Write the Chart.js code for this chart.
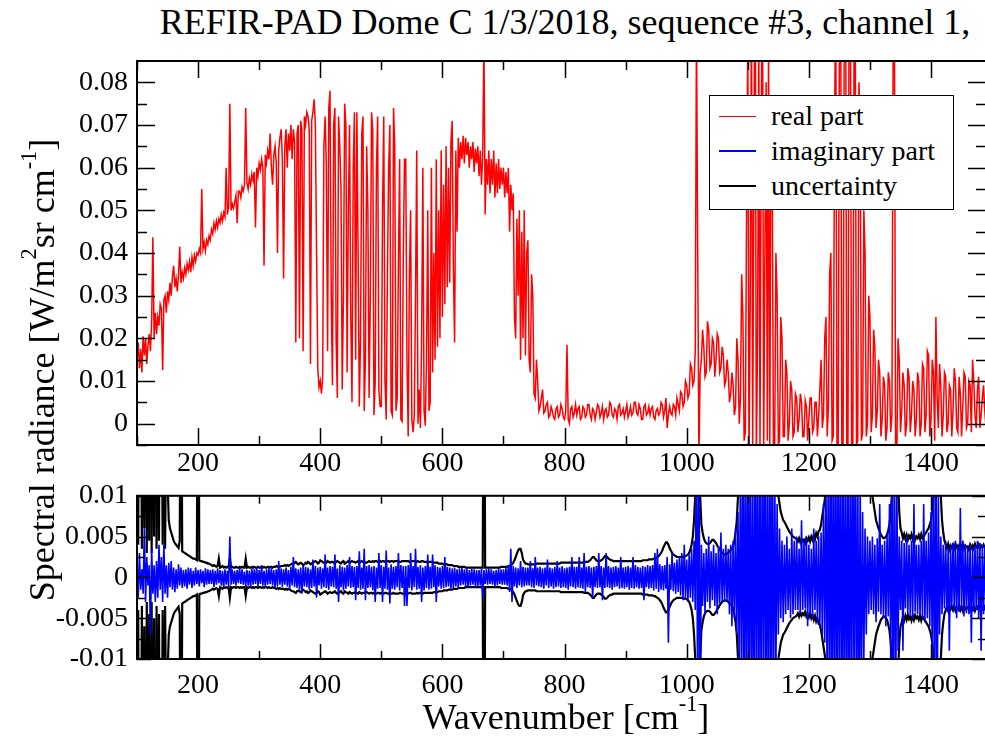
<!DOCTYPE html>
<html>
<head>
<meta charset="utf-8">
<script src="https://cdn.jsdelivr.net/npm/chart.js@4.4.0/dist/chart.umd.min.js"></script>
<style>
  body { margin:0; overflow:hidden; background:#fff; }
  #wrap { position:relative; width:985px; height:742px; overflow:hidden; font-family:'Liberation Serif','Times New Roman',serif; color:#000; }
  canvas { position:absolute; left:0; }
  .title { position:absolute; left:0; width:1130px; top:0; text-align:center; font-size:36px; line-height:44px; white-space:nowrap; }
  .ytitle { position:absolute; left:-258px; top:350px; width:600px; height:40px; line-height:40px; text-align:center; font-size:36px; transform:rotate(-90deg); white-space:nowrap; }
  .xtitle { position:absolute; left:366px; width:400px; top:697px; line-height:40px; text-align:center; font-size:36px; white-space:nowrap; }
  sup { font-size:0.62em; vertical-align:0.8em; line-height:0; }
  #legend { position:absolute; left:709px; top:95px; width:245px; height:115px; box-sizing:border-box; border:1.5px solid #000; background:#fff; }
  #legend .row { position:absolute; left:0; height:34px; line-height:34px; font-size:28px; white-space:nowrap; }
  #legend .swatch { position:absolute; left:9px; width:37px; top:17px; }
  #legend .lbl { position:absolute; left:61px; top:0; }
</style>
</head>
<body>
<div id="wrap">
  <div class="title">REFIR-PAD Dome C 1/3/2018, sequence #3, channel 1,</div>
  <canvas id="topChart" width="986" height="490" style="top:0"></canvas>
  <canvas id="botChart" width="986" height="272" style="top:470px"></canvas>
  <div class="ytitle">Spectral radiance [W/m<sup>2</sup>sr cm<sup>-1</sup>]</div>
  <div class="xtitle">Wavenumber [cm<sup>-1</sup>]</div>
  <div id="legend">
    <div class="row" style="top:3px"><div class="swatch" style="border-top:1px solid #ff0000"></div><span class="lbl">real part</span></div>
    <div class="row" style="top:38px"><div class="swatch" style="border-top:2px solid #0000ff;margin-top:-1px"></div><span class="lbl">imaginary part</span></div>
    <div class="row" style="top:73px"><div class="swatch" style="border-top:2px solid #000;margin-top:-1px"></div><span class="lbl">uncertainty</span></div>
  </div>
</div>
<script>
// sampling grid of the spectrum [cm-1]
var wnStart = 100, wnStep = 2;

// real part of the spectral radiance, units of 1e-4 W/(m2 sr cm-1), one row = 40 cm-1
var realE4 = [
  150,190,130,175,120,205,160,200,140,185,210,170,240,437,200,260,210,250,230,280,
  270,125,290,300,260,310,290,330,300,345,370,320,340,310,350,415,330,355,340,365,
  350,375,360,380,355,390,370,395,380,400,395,410,400,550,410,425,405,430,420,440,
  430,455,445,470,455,475,460,480,470,490,475,495,485,600,490,510,750,500,515,505,
  520,535,470,545,545,530,555,545,560,740,565,550,575,560,585,570,590,460,600,580,
  610,595,620,600,370,630,610,640,620,680,600,560,630,650,610,400,640,670,690,620,
  340,650,690,600,680,640,700,620,690,660,190,680,700,200,710,690,170,720,700,730,
  720,690,140,710,730,760,700,400,130,85,100,70,110,650,720,600,170,740,780,300,
  90,700,740,200,60,720,650,550,80,300,750,700,120,500,700,250,50,600,730,150,
  730,400,40,200,680,720,30,150,650,500,60,300,730,690,20,100,600,720,80,40,
  40,500,720,100,10,350,600,700,30,20,740,650,30,60,380,620,10,5,400,620,
  620,150,-30,350,500,10,-20,20,300,640,0,80,-10,200,600,30,-5,150,500,30,
  50,600,120,400,150,620,180,500,200,640,250,560,280,650,320,600,330,660,710,360,
  190,640,450,670,600,660,620,675,610,670,630,660,600,650,620,660,590,645,610,650,
  580,640,560,630,900,490,620,560,640,540,620,560,640,530,610,540,620,550,600,560,
  600,530,590,540,600,450,560,500,540,250,200,480,300,500,150,450,200,500,160,400,
  430,150,120,350,300,70,60,150,100,30,40,60,80,25,30,45,50,15,20,40,
  30,15,10,35,40,15,20,45,35,15,10,30,185,10,0,35,40,15,25,45,
  20,35,40,10,15,40,35,15,20,45,45,20,10,35,30,10,25,45,40,15,
  25,40,10,30,35,15,20,50,45,20,15,35,30,10,40,45,20,25,35,15,
  30,45,15,25,40,20,25,50,50,25,20,45,35,10,10,40,45,20,25,40,
  20,35,40,15,10,30,35,20,25,50,45,15,30,60,-10,20,40,25,20,45,
  40,20,60,45,30,75,70,40,50,100,90,60,70,140,130,90,100,170,950,400,
  -80,120,150,220,180,110,120,240,220,130,140,200,190,110,150,210,200,120,130,180,
  160,90,100,150,120,50,70,120,90,20,40,200,150,0,60,350,250,-40,-20,500,
  900,-80,300,1000,-50,600,1200,-100,200,900,-60,700,1100,-80,400,800,-40,900,-60,700,
  600,-60,-60,400,300,-50,-40,250,200,-30,-30,150,120,-40,0,100,80,-30,-20,70,
  60,-20,10,70,50,-30,-30,55,40,-40,10,60,60,-20,-10,50,50,-30,20,80,
  150,-10,20,200,250,-30,40,350,400,-40,-30,700,1000,-50,-60,900,1100,-80,-80,1000,
  1200,-60,-50,1100,1000,-80,-80,900,900,-50,-40,800,700,-40,-20,500,400,-30,0,300,
  250,-20,20,220,180,-10,30,150,120,-30,10,110,90,-40,-10,120,100,-20,20,900,
  1000,-80,-80,200,150,-20,30,120,90,-30,0,130,110,-20,20,100,80,-30,10,120,
  100,-30,0,140,130,-20,20,170,160,-30,10,150,120,-40,250,60,-10,140,90,-30,
  20,120,110,-20,0,90,80,-30,30,130,100,-10,-20,110,70,-30,40,120,110,-10,
  0,100,90,-20,150,100,20,-10,80,110,-10,20,60,90,30,-10
];

// imaginary part, 1e-4 units
var imagE4 = [
  20,-25,30,-15,10,-20,60,-30,25,-10,15,-70,35,-20,15,-30,20,-25,40,-15,
  25,-30,40,-20,15,-25,18,-12,20,-15,12,-18,10,-14,16,-10,12,-13,9,-11,
  10,-14,12,-9,11,-13,8,-10,12,-8,9,-11,10,-7,8,-12,11,-9,10,-8,
  9,-8,10,-12,8,-9,11,-7,9,-10,8,-12,10,-9,8,-11,50,-9,10,-8,
  8,-10,9,-7,12,-8,10,-9,7,-11,9,-10,8,-12,11,-9,10,-8,12,-11,
  9,-8,15,-10,8,-12,10,-9,11,-8,12,-10,9,-13,10,-11,20,-9,11,-12,
  10,-9,12,-11,9,-14,13,-10,25,-12,11,-13,10,-15,12,-20,14,-11,13,-12,
  12,-15,10,-13,22,-11,14,-25,12,-10,13,-14,11,-12,28,-13,12,-15,14,-11,
  13,-12,28,-14,11,-30,15,-12,13,-16,12,-14,15,-11,25,-13,14,-12,13,-28,
  14,-13,32,-15,12,-14,35,-28,14,-13,15,-12,13,-16,14,-30,12,-14,30,-13,
  15,-30,13,-14,33,-15,12,-32,16,-14,13,-15,14,-12,30,-16,15,-13,14,-35,
  14,-35,15,-13,30,-16,14,-12,35,-15,13,-14,15,-30,12,-16,14,-13,28,-15,
  13,-14,28,-12,15,-30,13,-11,12,-14,14,-13,25,-12,13,-11,12,-14,11,-13,
  12,-11,10,-13,11,-10,12,-9,10,-11,11,-12,9,-10,11,-9,10,-12,9,-11,
  9,-10,11,-25,9,-8,10,-9,11,-8,10,-9,8,-11,9,-10,11,-8,10,-9,
  10,-9,12,-10,15,-18,35,-30,14,-11,12,-13,11,-10,20,-12,13,-11,12,-10,
  12,-10,20,-12,11,-13,25,-10,12,-11,13,-12,11,-14,12,-10,22,-13,12,-11,
  11,-14,13,-12,20,-11,12,-13,14,-12,11,-13,12,-15,13,-11,25,-12,13,-14,
  13,-12,25,-13,12,-14,30,-18,13,-12,14,-13,12,-25,13,-12,14,-13,30,-12,
  14,-28,12,-13,30,-12,14,-13,12,-15,13,-12,14,-11,12,-14,25,-13,12,-14,
  13,-12,14,-15,12,-13,25,-14,15,-12,13,-14,12,-13,14,-28,13,-12,15,-14,
  14,-13,15,-16,30,-14,35,-18,16,-15,14,-16,15,-14,25,-80,16,-15,30,-17,
  18,-20,22,-18,25,-22,30,-28,40,-25,22,-30,28,-25,35,-30,45,-40,200,-200,
  200,-200,40,-35,30,-45,35,-30,50,-38,32,-28,40,-35,30,-45,38,-32,55,-30,
  35,-30,40,-28,35,-45,40,-60,45,-50,60,-70,80,-120,150,-150,200,-200,200,-200,
  200,-180,200,-200,150,-200,200,-170,200,-200,180,-200,200,-150,200,-200,170,-200,200,-180,
  200,-200,150,-120,90,-70,60,-50,45,-55,40,-45,50,-40,35,-50,60,-45,45,-40,
  50,-40,35,-45,70,-40,45,-38,50,-60,40,-45,35,-50,60,-40,45,-55,50,-60,
  55,-70,90,-80,120,-150,200,-200,200,-200,200,-200,200,-200,200,-180,200,-200,180,-200,
  200,-200,170,-200,200,-200,200,-150,200,-200,150,-200,120,-150,80,-100,60,-70,50,-45,
  45,-40,50,-45,40,-55,48,-42,90,-45,40,-50,45,-60,55,-48,90,-100,150,-200,
  200,-200,120,-90,50,-40,45,-90,42,-38,50,-45,40,-48,45,-50,90,-42,40,-45,
  40,-48,45,-50,90,-55,45,-50,55,-60,80,-100,150,-200,200,-200,100,-70,50,-45,
  40,-38,45,-42,35,-90,40,-36,42,-40,45,-50,38,-42,85,-40,45,-48,40,-44,
  38,-45,40,-80,36,-42,39,-40,45,-50,42,-90,40,-45,38,-42
];

// uncertainty (plotted as +/-), 1e-4 units
var uncE4 = [
  400,40,500,300,35,350,60,450,30,380,45,500,30,400,50,600,35,300,45,400,
  300,40,250,35,200,120,70,60,55,50,45,42,40,38,36,45,400,32,31,30,
  29,28,27,26,25,24,23,23,22,21,400,21,20,20,19,19,18,18,17,17,
  16,15,14,15,14,13,14,23,12,13,14,12,13,12,13,12,25,12,13,12,
  12,13,12,12,13,12,13,12,12,23,12,13,12,12,13,12,13,12,12,13,
  12,12,13,12,13,12,12,13,12,13,13,12,13,13,14,13,14,13,14,14,
  14,15,14,15,14,15,16,17,17,18,19,17,16,17,18,17,15,16,18,17,
  19,18,16,17,18,19,20,19,17,18,21,20,19,18,17,18,20,19,18,19,
  19,18,17,19,20,19,18,17,19,20,17,18,19,20,18,19,20,19,19,18,
  19,20,18,19,20,19,19,18,18,19,20,19,19,20,19,20,20,19,19,20,
  19,20,20,19,19,20,20,19,20,20,19,20,20,20,20,19,19,20,20,20,
  20,20,20,19,19,20,20,20,20,19,20,19,19,20,20,19,19,19,19,19,
  19,19,19,18,18,18,18,17,17,17,17,16,16,16,16,15,15,15,15,14,
  14,14,14,13,13,13,13,13,13,12,12,12,12,12,12,12,12,12,12,12,
  12,12,12,12,400,12,12,12,12,12,12,12,12,12,12,12,12,12,13,13,
  13,13,13,13,14,14,15,16,18,21,25,29,33,35,35,30,22,19,17,17,
  16,16,16,16,16,16,16,17,17,17,17,17,17,17,17,17,17,17,17,17,
  17,17,17,17,17,17,17,18,18,18,18,18,18,18,18,18,18,18,18,18,
  18,18,18,18,18,18,19,19,19,19,20,21,23,25,25,23,21,20,20,20,
  21,22,24,26,26,25,23,22,21,21,20,20,20,20,20,20,20,20,20,20,
  20,20,20,20,20,20,20,20,20,20,20,20,20,20,21,21,21,21,21,22,
  22,22,22,23,23,24,25,26,28,30,33,37,40,43,43,40,36,33,30,28,
  27,26,25,25,25,25,25,25,26,26,27,28,30,34,40,50,70,100,200,300,
  200,100,65,55,48,44,42,41,41,42,44,46,46,44,42,39,37,34,32,30,
  29,28,28,29,30,32,33,35,38,45,55,70,100,150,200,250,300,350,400,450,
  500,550,600,650,700,750,800,800,800,800,800,750,700,650,600,550,500,450,400,350,
  300,250,200,150,120,100,90,80,75,70,68,65,62,59,56,54,52,50,49,48,
  47,44,48,43,47,44,46,42,48,45,49,44,50,46,52,47,54,50,57,58,
  65,75,85,95,110,130,160,200,250,300,350,400,450,500,550,600,650,700,750,800,
  800,800,800,800,750,700,650,600,550,500,450,400,350,300,250,220,200,180,150,130,
  120,110,100,90,80,70,65,60,56,52,50,48,48,50,52,58,65,80,100,150,
  250,300,200,120,80,60,55,48,53,47,52,46,51,48,53,47,52,46,50,48,
  52,47,53,48,50,53,55,58,60,65,70,80,100,150,250,300,250,150,100,70,
  55,45,40,36,41,34,39,36,40,35,41,37,39,34,40,36,41,35,39,37,
  38,34,40,36,39,35,41,37,36,40,35,39,37,40,36,39
];

// axis ticks
var xMajor = [200,400,600,800,1000,1200,1400];
var xMinor = [100,300,500,700,900,1100,1300];
var topYMajor = [0,0.01,0.02,0.03,0.04,0.05,0.06,0.07,0.08];
var topYLabels = ['0','0.01','0.02','0.03','0.04','0.05','0.06','0.07','0.08'];
var topYMinor = [-0.005,0.005,0.015,0.025,0.035,0.045,0.055,0.065,0.075];
var botYMajor = [-0.01,-0.005,0,0.005,0.01];
var botYLabels = ['-0.01','-0.005','0','0.005','0.01'];
var botYMinor = [-0.0075,-0.0025,0.0025,0.0075];

var fontFamily = "'Liberation Serif','Times New Roman',serif";

function toPoints(vals, sign) {
  var pts = [];
  for (var i = 0; i < vals.length; i++) {
    pts.push({ x: wnStart + i * wnStep, y: sign * vals[i] * 1e-4 });
  }
  return pts;
}

// frame + inward ticks on all four sides, like the grace plots
var frameTicks = {
  id: 'frameTicks',
  afterDatasetsDraw: function(chart, args, o) {
    var ctx = chart.ctx, a = chart.chartArea;
    var xs = chart.scales.x, ys = chart.scales.y;
    ctx.save();
    ctx.strokeStyle = '#000';
    ctx.lineWidth = 1.5;
    ctx.beginPath();
    function xt(list, len) {
      list.forEach(function(v) {
        var px = Math.round(xs.getPixelForValue(v)) + 0.5;
        ctx.moveTo(px, a.bottom); ctx.lineTo(px, a.bottom - len);
        ctx.moveTo(px, a.top); ctx.lineTo(px, a.top + len);
      });
    }
    function yt(list, len) {
      list.forEach(function(v) {
        var py = Math.round(ys.getPixelForValue(v)) + 0.5;
        ctx.moveTo(a.left, py); ctx.lineTo(a.left + len, py);
        ctx.moveTo(a.right, py); ctx.lineTo(a.right - len, py);
      });
    }
    xt(xMajor, o.xMajorLen); xt(xMinor, o.xMinorLen);
    yt(o.yMajor, o.yMajorLen); yt(o.yMinor, o.yMinorLen);
    ctx.stroke();
    ctx.lineWidth = 2;
    ctx.strokeRect(a.left, a.top, a.right - a.left, a.bottom - a.top);
    ctx.restore();
  }
};

function baseOptions(padTop, xHeight, xPad, yMin, yMax, yMajor, yLabels) {
  return {
    responsive: false,
    animation: false,
    devicePixelRatio: 1,
    layout: { padding: { top: padTop, left: 0, right: 0, bottom: 0 } },
    plugins: { legend: { display: false }, tooltip: { enabled: false } },
    scales: {
      x: {
        type: 'linear', min: 100, max: 1490,
        grid: { display: false, drawTicks: false },
        border: { display: false },
        afterBuildTicks: function(s) { s.ticks = xMajor.map(function(v) { return { value: v }; }); },
        afterFit: function(s) { s.height = xHeight; },
        ticks: { padding: xPad, autoSkip: false, maxRotation: 0, color: '#000',
                 font: { family: fontFamily, size: 28 },
                 callback: function(v) { return String(v); } }
      },
      y: {
        min: yMin, max: yMax,
        grid: { display: false, drawTicks: false },
        border: { display: false },
        afterBuildTicks: function(s) { s.ticks = yMajor.map(function(v) { return { value: v }; }); },
        afterFit: function(s) { s.width = 137; },
        ticks: { padding: 9, autoSkip: false, color: '#000',
                 font: { family: fontFamily, size: 28 },
                 callback: function(v, i) { return yLabels[i]; } }
      }
    }
  };
}

var topOpts = baseOptions(61, 45, 2, -0.005, 0.085, topYMajor, topYLabels);
topOpts.plugins.frameTicks = { yMajor: topYMajor, yMinor: topYMinor, xMajorLen: 17, xMinorLen: 9, yMajorLen: 18, yMinorLen: 10 };

new Chart(document.getElementById('topChart'), {
  type: 'line',
  data: {
    datasets: [{
      label: 'real part',
      data: toPoints(realE4, 1),
      borderColor: '#ff0000',
      borderWidth: 1.5,
      pointRadius: 0,
      tension: 0,
      fill: false
    }]
  },
  options: topOpts,
  plugins: [frameTicks]
});

var botOpts = baseOptions(18, 83, 10, -0.01, 0.01, botYMajor, botYLabels);
botOpts.plugins.frameTicks = { yMajor: botYMajor, yMinor: botYMinor, xMajorLen: 15, xMinorLen: 8, yMajorLen: 14, yMinorLen: 8 };

new Chart(document.getElementById('botChart'), {
  type: 'line',
  data: {
    datasets: [
      { label: 'imaginary part', data: toPoints(imagE4, 1), borderColor: '#0000ff', borderWidth: 1.6, pointRadius: 0, tension: 0, fill: false },
      { label: 'uncertainty', data: toPoints(uncE4, 1), borderColor: '#000000', borderWidth: 2.2, pointRadius: 0, tension: 0, fill: false },
      { label: 'uncertainty (-)', data: toPoints(uncE4, -1), borderColor: '#000000', borderWidth: 2.2, pointRadius: 0, tension: 0, fill: false }
    ]
  },
  options: botOpts,
  plugins: [frameTicks]
});
</script>
</body>
</html>
